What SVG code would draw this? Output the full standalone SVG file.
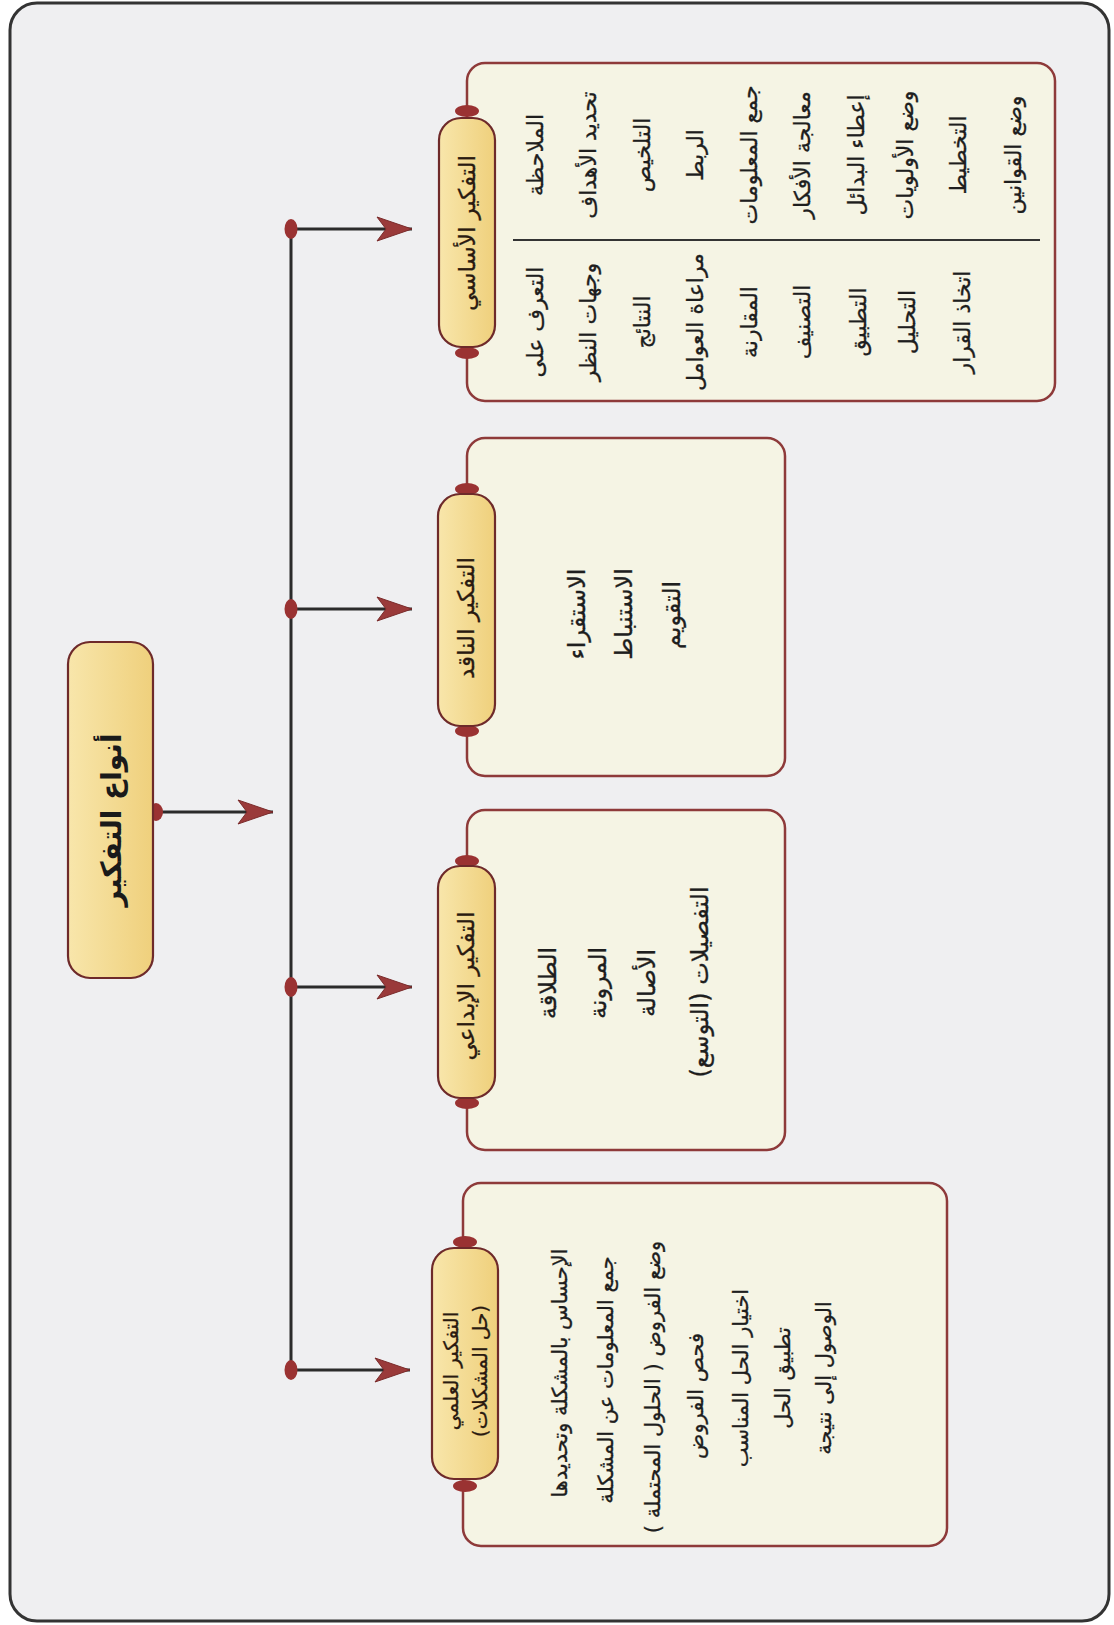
<svg xmlns="http://www.w3.org/2000/svg" width="1114" height="1625" viewBox="0 0 1114 1625">
<defs>
<linearGradient id="pillGrad" x1="0" y1="0" x2="1" y2="0">
<stop offset="0" stop-color="#f8e6ab"/>
<stop offset="1" stop-color="#efd07c"/>
</linearGradient>
<marker id="arrow" viewBox="0 0 38 26" refX="36" refY="13" markerWidth="38" markerHeight="26" markerUnits="userSpaceOnUse" orient="auto">
<path d="M36,13 L1,1 L10,13 L1,25 Z" fill="#9a3a3a" stroke="#7a2a2a" stroke-width="1"/>
</marker>
</defs>
<style>
.frame{fill:#efeff1;stroke:#333;stroke-width:3}
.box{fill:#f5f4e4;stroke:#8e3a3a;stroke-width:2.5}
.pill{fill:url(#pillGrad);stroke:#6e2a2a;stroke-width:2.2}
.dot{fill:#9a3232}
.conn{stroke:#2b2b2b;stroke-width:3;fill:none}
.sep{stroke:#333;stroke-width:2}
.t{font-family:"DejaVu Sans","Noto Sans",sans-serif;font-size:22px;fill:#1e1e1e;stroke:#1e1e1e;stroke-width:0.3;text-anchor:middle;dominant-baseline:central}
.t24{font-size:24px}
.t21{font-size:21px}
.h{font-family:"DejaVu Sans","Noto Sans",sans-serif;font-size:23px;fill:#2a1a10;stroke:#2a1a10;stroke-width:0.3;text-anchor:middle;dominant-baseline:central}
.root{font-family:"DejaVu Sans","Noto Sans",sans-serif;font-size:28px;font-weight:bold;fill:#1a1a1a;text-anchor:middle;dominant-baseline:central}
</style>
<rect class="frame" x="10" y="3" width="1099" height="1618" rx="27"/>

<g id="connectors">
<line class="conn" x1="291" y1="229" x2="291" y2="1370"/>
<line class="conn" x1="157" y1="812" x2="273" y2="812" marker-end="url(#arrow)"/>
<line class="conn" x1="291" y1="229" x2="412" y2="229" marker-end="url(#arrow)"/>
<line class="conn" x1="291" y1="609" x2="412" y2="609" marker-end="url(#arrow)"/>
<line class="conn" x1="291" y1="987" x2="412" y2="987" marker-end="url(#arrow)"/>
<line class="conn" x1="291" y1="1370" x2="410" y2="1370" marker-end="url(#arrow)"/>
<ellipse class="dot" cx="291" cy="229" rx="6.5" ry="10"/>
<ellipse class="dot" cx="291" cy="609" rx="6.5" ry="10"/>
<ellipse class="dot" cx="291" cy="987" rx="6.5" ry="10"/>
<ellipse class="dot" cx="291" cy="1370" rx="6.5" ry="10"/>
<ellipse class="dot" cx="156" cy="812" rx="7" ry="9"/>
</g>

<g id="root">
<rect class="pill" x="68" y="642" width="85" height="336" rx="22"/>
<text class="root" transform="translate(111,820) rotate(-90)">أنواع التفكير</text>
</g>

<g id="basic">
<rect class="box" x="467" y="63" width="588" height="338" rx="18"/>
<ellipse class="dot" cx="467" cy="111" rx="12" ry="6"/>
<ellipse class="dot" cx="467" cy="353" rx="12" ry="6"/>
<rect class="pill" x="439" y="118" width="56" height="229" rx="22"/>
<text class="h" transform="translate(467,233) rotate(-90)">التفكير الأساسي</text>
<line class="sep" x1="513" y1="240" x2="1040" y2="240"/>
<text class="t" transform="translate(535,155) rotate(-90)">الملاحظة</text>
<text class="t" transform="translate(588,155) rotate(-90)">تحديد الأهداف</text>
<text class="t" transform="translate(642,155) rotate(-90)">التلخيص</text>
<text class="t" transform="translate(695,155) rotate(-90)">الربط</text>
<text class="t" transform="translate(749,155) rotate(-90)">جمع المعلومات</text>
<text class="t" transform="translate(802,155) rotate(-90)">معالجة الأفكار</text>
<text class="t" transform="translate(856,155) rotate(-90)">إعطاء البدائل</text>
<text class="t" transform="translate(905,155) rotate(-90)">وضع الأولويات</text>
<text class="t" transform="translate(958,155) rotate(-90)">التخطيط</text>
<text class="t" transform="translate(1013,155) rotate(-90)">وضع القوانين</text>
<text class="t" transform="translate(535,322) rotate(-90)">التعرف على</text>
<text class="t" transform="translate(588,322) rotate(-90)">وجهات النظر</text>
<text class="t" transform="translate(642,322) rotate(-90)">النتائج</text>
<text class="t" transform="translate(695,322) rotate(-90)">مراعاة العوامل</text>
<text class="t" transform="translate(749,322) rotate(-90)">المقارنة</text>
<text class="t" transform="translate(802,322) rotate(-90)">التصنيف</text>
<text class="t" transform="translate(858,322) rotate(-90)">التطبيق</text>
<text class="t" transform="translate(907,322) rotate(-90)">التحليل</text>
<text class="t" transform="translate(962,322) rotate(-90)">اتخاذ القرار</text>
</g>

<g id="critical">
<rect class="box" x="467" y="438" width="318" height="338" rx="18"/>
<ellipse class="dot" cx="467" cy="489" rx="12" ry="6"/>
<ellipse class="dot" cx="467" cy="731" rx="12" ry="6"/>
<rect class="pill" x="438" y="494" width="57" height="232" rx="22"/>
<text class="h" transform="translate(466,618) rotate(-90)">التفكير الناقد</text>
<text class="t t24" transform="translate(577,614) rotate(-90)">الاستقراء</text>
<text class="t t24" transform="translate(624,614) rotate(-90)">الاستنباط</text>
<text class="t t24" transform="translate(672,615) rotate(-90)">التقويم</text>
</g>

<g id="creative">
<rect class="box" x="467" y="810" width="318" height="340" rx="18"/>
<ellipse class="dot" cx="467" cy="861" rx="12" ry="6"/>
<ellipse class="dot" cx="467" cy="1103" rx="12" ry="6"/>
<rect class="pill" x="438" y="866" width="57" height="232" rx="22"/>
<text class="h" transform="translate(466,986) rotate(-90)">التفكير الإبداعي</text>
<text class="t t24" transform="translate(548,983) rotate(-90)">الطلاقة</text>
<text class="t t24" transform="translate(598,983) rotate(-90)">المرونة</text>
<text class="t t24" transform="translate(647,983) rotate(-90)">الأصالة</text>
<text class="t t24" transform="translate(700,982) rotate(-90)">التفصيلات (التوسع)</text>
</g>

<g id="scientific">
<rect class="box" x="463" y="1183" width="484" height="363" rx="18"/>
<ellipse class="dot" cx="465" cy="1242" rx="12" ry="6"/>
<ellipse class="dot" cx="465" cy="1486" rx="12" ry="6"/>
<rect class="pill" x="432" y="1248" width="66" height="231" rx="22"/>
<text class="h" style="font-size:20px" transform="translate(451,1371) rotate(-90)">التفكير العلمي</text>
<text class="h" style="font-size:20px" transform="translate(480,1371) rotate(-90)">(حل المشكلات)</text>
<text class="t t21" transform="translate(560,1373) rotate(-90)">الإحساس بالمشكلة وتحديدها</text>
<text class="t t21" transform="translate(606,1380) rotate(-90)">جمع المعلومات عن المشكلة</text>
<text class="t t21" transform="translate(653,1387) rotate(-90)">وضع الفروض ( الحلول المحتملة )</text>
<text class="t t21" transform="translate(696,1396) rotate(-90)">فحص الفروض</text>
<text class="t t21" transform="translate(741,1378) rotate(-90)">اختيار الحل المناسب</text>
<text class="t t21" transform="translate(783,1378) rotate(-90)">تطبيق الحل</text>
<text class="t t21" transform="translate(824,1378) rotate(-90)">الوصول إلى نتيجة</text>
</g>
</svg>
